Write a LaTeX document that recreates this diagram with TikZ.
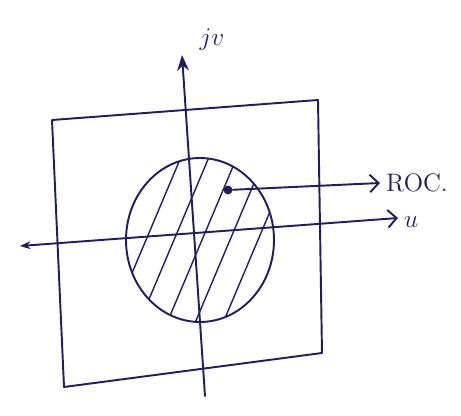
\documentclass[tikz,border=0pt]{standalone}
\usetikzlibrary{arrows.meta}
\definecolor{ink}{RGB}{32,30,96}
\tikzset{
  pen/.style={color=ink, line width=1.1pt, line cap=round, line join=round},
  hatch/.style={color=ink, line width=0.8pt},
  axislabel/.style={color=ink, font=\Large\itshape, inner sep=1pt}
}
\begin{document}
\begin{tikzpicture}[x=0.02cm, y=-0.02cm]
    \useasboundingbox (0,0) rectangle (461,416);
    % frame of the plane
    \draw[pen] (52,120) -- (318,100) -- (322,353) -- (64,387) -- cycle;
    % hatched region of convergence
    \begin{scope}
        \clip (200,240) ellipse [x radius=74, y radius=82];
        \foreach \x in {118,146,...,300}
            \draw[hatch] (\x-38,330) -- (\x+38,150);
    \end{scope}
    \draw[pen] (200,240) ellipse [x radius=74, y radius=82];
    % axes
    \coordinate (uL) at (20,246);
    \coordinate (uR) at (398,218);
    \coordinate (vB) at (205,396);
    \coordinate (vT) at (182,55);
    \draw[pen, {Stealth[length=6pt]}-{Straight Barb[length=5pt,width=10pt]}] (uL) -- (uR);
    \draw[pen, -{Stealth[length=9pt]}] (vB) -- (vT);
    \node[axislabel, anchor=west] (u) at (402,222) {$u$};
    \node[axislabel] (v) at (212,40) {$jv$};
    % ROC pointer
    \node[circle, fill=ink, inner sep=1.8pt] (roc) at (228,190) {};
    \node[color=ink, font=\Large, anchor=west] (roclabel) at (380,183) {ROC.};
    \draw[pen, -{Straight Barb[length=5pt,width=10pt]}] (roc) -- (roclabel.west);
\end{tikzpicture}
\end{document}
